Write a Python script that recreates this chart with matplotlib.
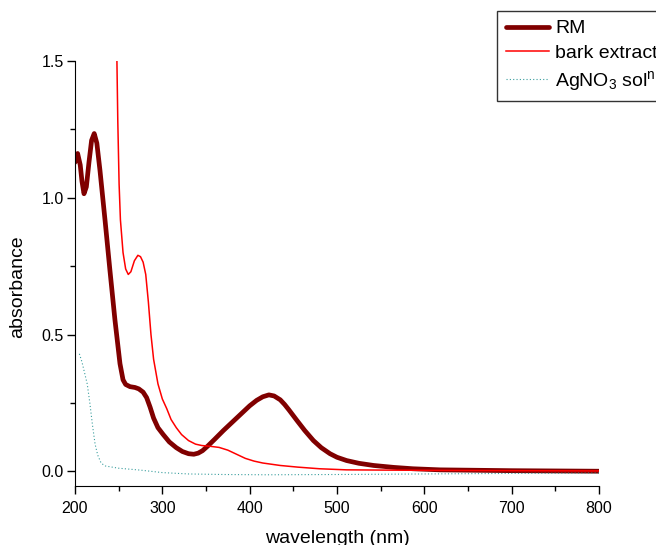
import numpy as np
import matplotlib.pyplot as plt
from matplotlib.ticker import MultipleLocator

plt.rcParams['font.family'] = ['Liberation Sans', 'DejaVu Sans']
plt.rcParams['mathtext.default'] = 'regular'

# RM
rm_wl = [200, 203, 206, 208, 210.3, 213, 216, 219, 222, 225, 228.6, 234.4, 240, 245.8, 251.5,
         255, 258, 263, 268.7, 273, 278, 282, 286, 290, 295, 301, 308, 316, 323, 330,
         336, 341, 346, 352, 360, 370, 380, 390, 400, 408, 415, 422, 428, 435, 440,
         445, 454, 463, 473, 482, 492, 500, 511, 525, 542, 565, 587, 618, 700, 800]
rm_abs = [1.13, 1.162, 1.12, 1.06, 1.015, 1.04, 1.13, 1.21, 1.235, 1.20, 1.10, 0.918, 0.735, 0.552, 0.394,
          0.335, 0.318, 0.31, 0.307, 0.302, 0.29, 0.27, 0.235, 0.195, 0.16, 0.135, 0.108, 0.087, 0.073, 0.065,
          0.063, 0.067, 0.076, 0.093, 0.118, 0.15, 0.18, 0.21, 0.24, 0.26, 0.273, 0.28, 0.276, 0.262, 0.245,
          0.225, 0.187, 0.15, 0.113, 0.087, 0.065, 0.052, 0.04, 0.03, 0.022, 0.015, 0.01, 0.006, 0.003, 0.001]

# bark extract
bark_wl = [247, 248, 249, 250.5, 252, 255, 258, 261, 264, 268, 272, 275, 278, 281, 284,
           287, 290, 295, 300, 305, 310, 316, 322, 330, 338, 345, 355, 365, 375, 385,
           395, 405, 415, 435, 455, 480, 511, 560, 618, 700, 800]
bark_abs = [1.60, 1.50, 1.28, 1.05, 0.92, 0.80, 0.74, 0.72, 0.73, 0.77, 0.79, 0.785, 0.765, 0.72, 0.62,
            0.50, 0.41, 0.32, 0.265, 0.23, 0.19, 0.16, 0.135, 0.113, 0.10, 0.095, 0.092, 0.088, 0.078, 0.063,
            0.048, 0.038, 0.031, 0.022, 0.016, 0.01, 0.006, 0.005, 0.004, 0.003, 0.002]

# AgNO3 solution
ag_wl = [205, 208, 211, 214, 217, 220, 223, 226, 230, 235, 250, 275, 300, 330, 370,
         420, 500, 600, 700, 800]
ag_abs = [0.43, 0.40, 0.36, 0.32, 0.25, 0.17, 0.10, 0.06, 0.03, 0.02, 0.012, 0.005, -0.004, -0.009, -0.011,
          -0.012, -0.011, -0.009, -0.007, -0.006]

fig = plt.figure(figsize=(6.56, 5.45), dpi=100)
ax = fig.add_axes([75/656, 1-486/545, 524/656, 425/545])

l1, = ax.plot(rm_wl, rm_abs, color='#800000', lw=3.4, label='RM',
              solid_joinstyle='round', solid_capstyle='round')
l2, = ax.plot(bark_wl, bark_abs, color='#ff0000', lw=1.1, label='bark extract',
              solid_joinstyle='round')
l3, = ax.plot(ag_wl, ag_abs, color='#3a9e9e', lw=0.8, ls=(0, (1, 2)),
              label='AgNO$_3$ sol$^n$')

ax.set_xlim(200, 800)
ax.set_ylim(-0.053, 1.5)
ax.xaxis.set_major_locator(MultipleLocator(100))
ax.xaxis.set_minor_locator(MultipleLocator(50))
ax.yaxis.set_major_locator(MultipleLocator(0.5))
ax.yaxis.set_minor_locator(MultipleLocator(0.25))
ax.tick_params(which='major', direction='out', length=6, width=1, labelsize=11.5)
ax.tick_params(which='minor', direction='out', length=3.6, width=1)
ax.tick_params(axis='x', pad=5)
ax.tick_params(axis='y', pad=2)
ax.spines['top'].set_visible(False)
ax.spines['right'].set_visible(False)

ax.set_xlabel('wavelength (nm)', fontsize=14, labelpad=10)
ax.set_ylabel('absorbance', fontsize=14)
ax.yaxis.set_label_coords(-0.093, 0.47)

leg = fig.legend(handles=[l1, l2, l3], loc='upper left',
                 bbox_to_anchor=(497/656, 1-11/545), fontsize=14,
                 frameon=True, fancybox=False, edgecolor='black',
                 handlelength=2.2, borderaxespad=0, labelspacing=0.35,
                 handletextpad=0.35, borderpad=0.45)
leg.get_frame().set_linewidth(1)

fig.savefig('out.png', dpi=100)
